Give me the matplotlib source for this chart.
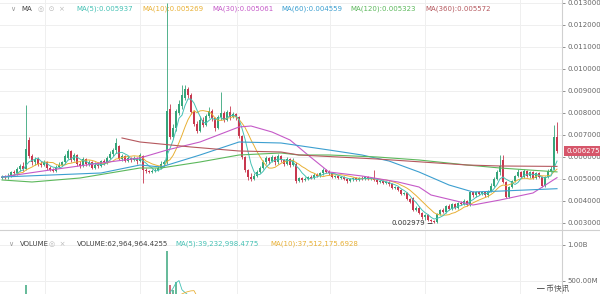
import matplotlib
matplotlib.use('Agg')
import matplotlib.pyplot as plt
import numpy as np
import pandas as pd
from matplotlib.lines import Line2D
from matplotlib.transforms import blended_transform_factory

# ---------------- data (prices in units of 1e-6) ----------------
opens = [5050,5100,5080,5150,5300,5250,5450,5600,5450,6750,
         6050,5750,5900,5700,5650,5750,5500,5420,5380,5550,
         5650,5750,5950,6250,5850,6100,5700,5600,5900,5700,
         5750,5500,5650,5600,5800,5750,5950,6150,6300,6500,
         5900,6050,5800,5950,5850,5950,5800,6050,5400,5350,
         5300,5380,5400,5500,5700,5750,8200,6900,7300,8000,
         8300,8700,9100,8800,8050,7500,7200,7700,7450,7850,
         8100,7750,7300,7800,8000,7700,8050,7800,7950,7800,
         6950,6000,5400,5100,5000,5150,5300,5500,5750,5950,
         5800,6000,5750,6050,5850,5700,5900,5650,5700,4900,
         5050,4950,5000,5100,5050,5200,5150,5250,5400,5300,
         5250,5100,5150,5050,5100,5000,4900,4980,5050,4950,
         5050,5000,5080,5000,5050,4950,4850,4900,4800,4880,
         4750,4600,4650,4500,4300,4350,4100,4150,3600,3700,
         3450,3250,3350,3150,3100,3050,3400,3600,3500,3750,
         3650,3850,3700,3900,3850,4000,3800,4400,4250,4400,
         4300,4400,4250,4450,4700,5000,5300,5850,4850,4200,
         4650,4900,5150,5300,5100,5350,5150,5300,5050,5250,
         5100,4700,5100,5350,5450,6900]
closes = [5100,5080,5150,5300,5250,5450,5600,5450,6350,6050,
          5750,5900,5700,5650,5750,5500,5420,5380,5550,5650,
          5750,6050,6280,5850,6100,5700,5600,5900,5700,5750,
          5500,5650,5600,5800,5750,5950,6150,6300,6650,5900,
          6050,5800,5950,5850,5950,5800,6100,5400,5350,5300,
          5380,5400,5500,5700,5750,8100,6900,7300,8100,8400,
          8800,9100,8800,8050,7500,7200,7700,7450,7850,8100,
          7750,7300,7800,8000,7700,8050,7800,7950,7800,6950,
          6000,5400,5100,5000,5150,5300,5500,5750,5950,5800,
          6000,5750,6050,5850,5700,5900,5650,5850,4900,5050,
          4950,5000,5100,5050,5200,5150,5250,5400,5300,5250,
          5100,5150,5050,5100,5000,4900,4980,5050,4950,5050,
          5000,5080,5000,5050,4950,4850,4900,4800,4880,4750,
          4600,4650,4500,4300,4350,4100,3950,3600,3700,3450,
          3250,3350,3150,3100,3050,3400,3600,3500,3750,3650,
          3850,3700,3900,3850,4000,3800,4400,4250,4400,4300,
          4400,4250,4450,4700,5000,5300,5600,4850,4200,4650,
          4900,5150,5300,5100,5350,5150,5300,5050,5250,5100,
          4700,5100,5350,5450,6900,6275]
highs = [5180,5200,5250,5380,5400,5550,5700,5750,8360,6900,
         6150,6000,5980,5800,5850,5800,5600,5520,5620,5750,
         5820,6150,6380,6300,6200,6150,5800,6000,5950,5850,
         5800,5750,5750,5880,5900,6050,6250,6400,6860,6550,
         6150,6100,6050,6000,6050,6000,6200,6100,5500,5420,
         5450,5480,5580,5800,5850,13000,8400,7500,8200,8600,
         9270,9250,9200,8900,8150,7650,7850,7800,7950,8250,
         8200,7800,7900,8950,8100,8150,8300,8050,8000,7850,
         7000,6050,5450,5250,5250,5400,5600,5850,6050,6000,
         6100,6050,6150,6100,5900,6000,5950,5950,5750,5100,
         5100,5080,5150,5200,5250,5270,5300,5500,5450,5400,
         5300,5200,5200,5150,5150,5050,5050,5100,5100,5100,
         5150,5150,5120,5100,5410,5000,4950,4950,4930,4900,
         4800,4700,4700,4550,4400,4400,4150,4200,3750,3750,
         3500,3400,3400,3200,3150,3450,3650,3700,3800,3850,
         3900,3900,3950,4000,4100,4050,4450,4450,4450,4450,
         4450,4420,4500,4800,5100,5400,6090,6090,4900,4700,
         4950,5200,5450,5350,5450,5400,5350,5350,5300,5300,
         5150,5150,5450,5600,7450,7590]
lows = [4980,5000,5020,5100,5180,5200,5380,5350,5400,5950,
        5650,5650,5600,5550,5580,5420,5350,5300,5330,5480,
        5600,5700,5900,5750,5800,5600,5500,5550,5600,5600,
        5450,5450,5500,5550,5650,5700,5900,6050,6200,5850,
        5800,5750,5750,5780,5800,5700,5750,4820,5250,5250,
        5250,5320,5350,5450,5600,5700,6800,6800,7200,7900,
        8200,8600,8700,7950,7400,7100,7150,7350,7400,7750,
        7650,7200,7250,7700,7600,7650,7700,7750,7700,6850,
        5900,5300,4950,4910,4950,5100,5250,5450,5700,5700,
        5750,5650,5700,5750,5600,5650,5550,5600,4820,4850,
        4880,4900,4950,5000,5000,5100,5100,5200,5250,5200,
        5050,5050,5000,5000,4950,4820,4850,4920,4900,4900,
        4950,4950,4950,4950,4900,4780,4800,4750,4750,4700,
        4550,4550,4450,4250,4250,4050,3900,3550,3550,3400,
        3200,3150,3100,3050,2979,3000,3350,3450,3450,3600,
        3600,3650,3650,3800,3800,3750,3750,4200,4200,4250,
        4250,4200,4200,4400,4650,4950,5200,4800,4150,4150,
        4600,4850,5100,5050,5050,5100,5050,5000,5000,5050,
        4640,4650,5050,5300,5400,6200]
# volume in millions
volumes = [60,70,55,80,65,90,110,150,440,260,140,100,90,80,70,85,75,60,70,90,
           95,120,150,110,90,80,100,85,70,75,80,70,90,85,95,110,130,150,200,160,
           110,90,85,75,80,70,95,180,120,90,80,75,85,100,140,920,450,380,480,300,
           280,260,220,200,170,150,140,130,150,140,120,130,160,140,120,110,100,130,220,240,
           200,180,150,130,120,110,120,100,95,90,85,95,80,90,85,75,80,70,150,100,
           80,70,65,70,60,65,60,70,65,60,55,60,55,50,60,70,55,50,55,50,
           50,55,50,55,80,60,55,50,55,60,70,65,75,80,90,85,100,120,110,130,
           140,120,150,160,130,140,120,110,100,95,90,95,85,90,80,90,150,110,90,85,
           80,85,90,80,100,120,180,200,210,140,120,100,90,80,70,65,60,55,50,45,
           60,40,35,45,70,63]

# long moving averages (candle index, price 1e-6)
ma30_idx = [0,16,33,46,55,66,79,83,90,96,102,109,120,132,139,143,157,166,177,185]
ma30_val = [5091,5409,5727,5955,6318,6682,7364,7409,7136,6773,6091,5318,5136,4864,4636,4273,3818,4045,4364,5061]
ma60_idx = [0,33,46,53,66,79,93,109,120,129,139,149,157,166,185]
ma60_val = [5091,5273,5636,5545,6091,6682,6636,6318,6091,5818,5318,4727,4409,4450,4559]
ma120_idx = [0,10,26,46,53,66,79,93,99,109,125,139,155,166,185]
ma120_val = [4955,4864,5045,5500,5500,5773,6091,6182,6091,6091,6000,5864,5636,5500,5323]
ma360_idx = [40,46,63,79,93,99,125,155,166,185]
ma360_val = [6864,6682,6455,6273,6227,6091,5909,5636,5591,5572]

ma_header = ["MA(5):0.005937", "MA(10):0.005269", "MA(30):0.005061",
             "MA(60):0.004559", "MA(120):0.005323", "MA(360):0.005572"]
vol_header = ["VOLUME:62,964,964.4255", "MA(5):39,232,998.4775", "MA(10):37,512,175.6928"]
low_label = "0.002979"

assert len(opens) == len(closes) == len(highs) == len(lows) == len(volumes)

# ---------------- style ----------------
UP = '#35a57a'
DN = '#c8384f'
C5, C10, C30, C60, C120, C360 = '#45c1b4', '#e8b035', '#c55ac8', '#3c9fd0', '#5cb85c', '#b5585e'
GRID = '#efefef'
SEP = '#d0d0d0'
TXT = '#666666'

W, H = 600, 294
fig = plt.figure(figsize=(6, 2.94), dpi=100)
fig.patch.set_facecolor('white')

def fx(px):
    return px / W

def fy(py):
    return 1 - py / H

ax = fig.add_axes([0, fy(229), 562 / W, 229 / H])
axv = fig.add_axes([0, fy(317), 562 / W, (317 - 230) / H])

n = len(closes)
idx = np.arange(n)
o = np.array(opens) * 1e-6
c = np.array(closes) * 1e-6
h = np.array(highs) * 1e-6
l = np.array(lows) * 1e-6
up = c >= o
cols = np.where(up, UP, DN)

xlim = (-2 / 3, (562 - 2) / 3)
grid_idx = [14.3, 46, 78.3, 109.3, 141, 172.7]

# ---- main pane ----
ax.vlines(idx, l, h, colors=cols, lw=0.6, zorder=3)
body = np.maximum(np.abs(c - o), 0.00002)
ax.bar(idx, body, bottom=np.minimum(o, c), width=0.62, color=cols, linewidth=0, zorder=4)

ma5 = pd.Series(c).rolling(5, min_periods=1).mean()
ma10 = pd.Series(c).rolling(10, min_periods=1).mean()
ax.plot(idx, ma10, color=C10, lw=0.7, zorder=5)
ax.plot(idx, ma5, color=C5, lw=0.7, zorder=5)
ax.plot(ma30_idx, np.array(ma30_val) * 1e-6, color=C30, lw=0.8, zorder=5)
ax.plot(ma60_idx, np.array(ma60_val) * 1e-6, color=C60, lw=0.8, zorder=5)
ax.plot(ma120_idx, np.array(ma120_val) * 1e-6, color=C120, lw=0.8, zorder=5)
ax.plot(ma360_idx, np.array(ma360_val) * 1e-6, color=C360, lw=0.8, zorder=5)

ax.set_xlim(*xlim)
ax.set_ylim(0.002727, 0.013136)
yt = np.arange(3, 14) * 0.001
ax.set_yticks(yt)
ax.set_yticklabels([f'{v:.6f}' for v in yt])
ax.yaxis.tick_right()
ax.tick_params(axis='y', labelsize=5, colors=TXT, length=2, width=0.5, pad=2)
ax.set_xticks(grid_idx)
ax.tick_params(axis='x', length=0, labelbottom=False)
ax.grid(True, color=GRID, lw=0.7)
for s in ['top', 'left', 'bottom']:
    ax.spines[s].set_visible(False)
ax.spines['right'].set_color(SEP)
ax.spines['right'].set_linewidth(0.8)

# low annotation
imin = int(np.argmin(l))
ax.annotate(low_label, xy=(imin - 0.6, l[imin]), xytext=(-5, 0), textcoords='offset points',
            ha='right', va='center', fontsize=5, color='#333333',
            arrowprops=dict(arrowstyle='-', lw=0.6, color='#333333', shrinkA=0, shrinkB=0), zorder=6)

# last price label
tr = blended_transform_factory(ax.transAxes, ax.transData)
ax.text(1.008, c[-1], f'{c[-1]:.6f}', transform=tr, fontsize=5, color='white',
        va='center', ha='left', clip_on=False, zorder=10,
        bbox=dict(boxstyle='square,pad=0.3', fc='#d6566a', ec='none'))

# ---- volume pane ----
v = np.array(volumes) * 1e6
axv.bar(idx, v, width=0.45, color=cols, alpha=0.75, linewidth=0, zorder=3)
vma5 = pd.Series(v).rolling(5, min_periods=1).mean()
vma10 = pd.Series(v).rolling(10, min_periods=1).mean()
axv.plot(idx, vma5, color=C5, lw=0.6, zorder=4)
axv.plot(idx, vma10, color=C10, lw=0.6, zorder=4)
axv.set_xlim(*xlim)
axv.set_ylim(0, 1.208e9)
axv.set_yticks([5e8, 1e9])
axv.set_yticklabels(['500.00M', '1.00B'])
axv.yaxis.tick_right()
axv.tick_params(axis='y', labelsize=5, colors=TXT, length=2, width=0.5, pad=2)
axv.set_xticks(grid_idx)
axv.tick_params(axis='x', length=0, labelbottom=False)
axv.grid(True, color=GRID, lw=0.7)
for s in ['top', 'left', 'bottom']:
    axv.spines[s].set_visible(False)
axv.spines['right'].set_color(SEP)
axv.spines['right'].set_linewidth(0.8)

# pane separator
fig.add_artist(Line2D([0, 1], [fy(229.5)] * 2, color=SEP, lw=0.8))

# ---- header texts ----
fs = 5
fig.text(fx(10), fy(9), '∨', fontsize=fs, color='#999999', va='center')
fig.text(fx(21), fy(9), 'MA', fontsize=fs, color='#444444', va='center')
fig.text(fx(38), fy(9), '◎  ⊙  ×', fontsize=fs, color='#bbbbbb', va='center')
for txt, xp, col in zip(ma_header, [76, 142, 212, 281, 350, 425], [C5, C10, C30, C60, C120, C360]):
    fig.text(fx(xp), fy(9), txt, fontsize=fs, color=col, va='center')

fig.text(fx(8), fy(244), '∨', fontsize=fs, color='#999999', va='center')
fig.text(fx(20), fy(244), 'VOLUME', fontsize=fs, color='#444444', va='center')
fig.text(fx(49), fy(244), '◎  ×', fontsize=fs, color='#bbbbbb', va='center')
for txt, xp, col in zip(vol_header, [77, 175, 270], ['#444444', C5, C10]):
    fig.text(fx(xp), fy(244), txt, fontsize=fs, color=col, va='center')

# watermark near the bottom edge
fig.text(fx(537), fy(293), '━ 币快讯', fontsize=5.5, color='#555555', va='bottom',
         family=['Noto Sans CJK SC', 'DejaVu Sans'])

fig.savefig('out.png', dpi=100)
